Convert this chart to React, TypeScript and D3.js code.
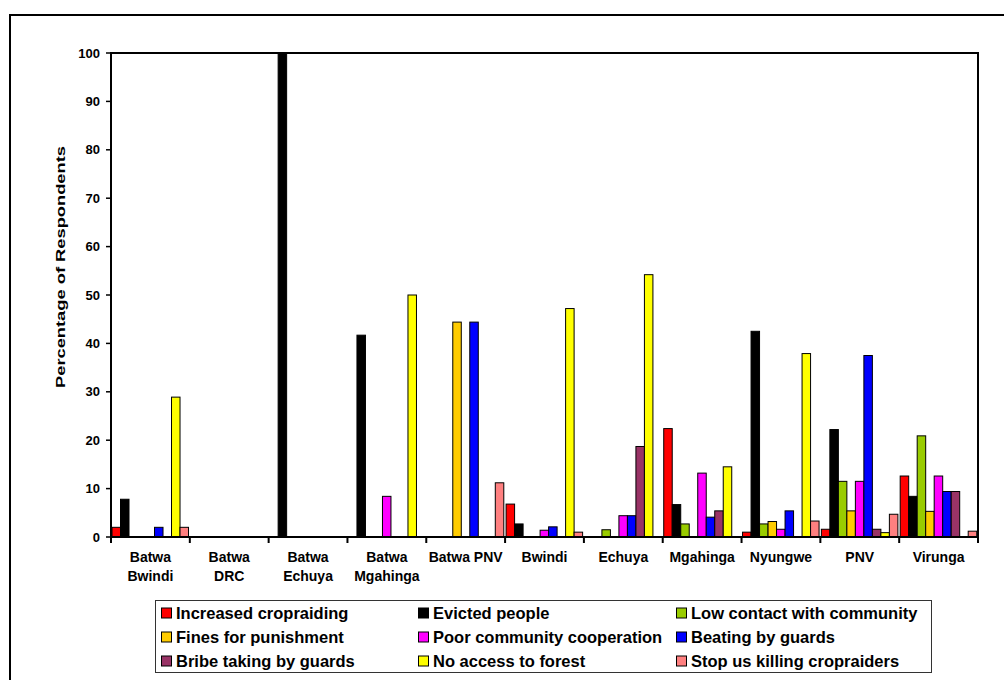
import React from "react";
import * as d3 from "d3";

const categories = [
  "Batwa\nBwindi", "Batwa\nDRC", "Batwa\nEchuya", "Batwa\nMgahinga", "Batwa PNV",
  "Bwindi", "Echuya", "Mgahinga", "Nyungwe", "PNV", "Virunga",
];

const seriesNames = [
  "Increased cropraiding", "Evicted people", "Low contact with community",
  "Fines for punishment", "Poor community cooperation", "Beating by guards",
  "Bribe taking by guards", "No access to forest", "Stop us killing cropraiders",
];

const seriesColors = [
  "#FF0000", "#000000", "#99CC00", "#FFCC00", "#FF00FF", "#0000FF", "#993366", "#FFFF00", "#FF8080",
];

const increasedCropraiding = [2.0, 0, 0, 0, 0, 6.8, 0, 22.4, 1.0, 1.6, 12.6];
const evictedPeople = [7.8, 0, 100, 41.7, 0, 2.7, 0, 6.7, 42.5, 22.2, 8.4];
const lowContact = [0, 0, 0, 0, 0, 0, 1.5, 2.7, 2.7, 11.5, 20.9];
const finesForPunishment = [0, 0, 0, 0, 44.4, 0, 0, 0, 3.2, 5.4, 5.3];
const poorCooperation = [0, 0, 0, 8.4, 0, 1.4, 4.4, 13.2, 1.6, 11.5, 12.6];
const beatingByGuards = [2.0, 0, 0, 0, 44.4, 2.1, 4.4, 4.1, 5.4, 37.5, 9.4];
const bribeTaking = [0, 0, 0, 0, 0, 0, 18.7, 5.4, 0, 1.6, 9.4];
const noAccessToForest = [28.9, 0, 0, 50.0, 0, 47.2, 54.2, 14.5, 37.9, 0.9, 0];
const stopKilling = [2.0, 0, 0, 0, 11.2, 1.0, 0, 0, 3.3, 4.7, 1.2];

const seriesValues = [
  increasedCropraiding, evictedPeople, lowContact, finesForPunishment, poorCooperation,
  beatingByGuards, bribeTaking, noAccessToForest, stopKilling,
];

const yTicks = [0, 10, 20, 30, 40, 50, 60, 70, 80, 90, 100];

const FONT = "'Liberation Sans', Arial, sans-serif";

export default function App() {
  const left = 111, right = 978, top = 53, bottom = 537;
  const x = d3.scaleBand<number>().domain(d3.range(categories.length)).range([left, right]).padding(0);
  const bw = x.bandwidth();
  const xs = d3.scaleBand<number>().domain(d3.range(seriesNames.length)).range([1, bw - 1.3]).padding(0);
  const y = d3.scaleLinear().domain([0, 100]).range([bottom, top]);

  const legendCols = [161, 418, 676];
  const legendRows = [613, 637, 661];

  return (
    <svg width={1004} height={680} style={{ position: "absolute", left: 0, top: 0, background: "#fff" }} fontFamily={FONT}>
      <rect x={0} y={0} width={1004} height={680} fill="#fff" />
      <rect x={10} y={15} width={1010} height={700} fill="none" stroke="#000" strokeWidth={2} />

      {/* bars */}
      {seriesValues.map((vals, si) =>
        vals.map((v, ci) =>
          v > 0 ? (
            <rect
              key={`${si}-${ci}`}
              x={(x(ci) as number) + (xs(si) as number)}
              y={y(v)}
              width={xs.bandwidth()}
              height={bottom - y(v)}
              fill={seriesColors[si]}
              stroke="#000"
              strokeWidth={1}
            />
          ) : null
        )
      )}

      {/* plot frame */}
      <rect x={left} y={top} width={right - left} height={bottom - top} fill="none" stroke="#000" strokeWidth={2} />

      {/* y ticks */}
      {yTicks.map((t) => (
        <g key={t}>
          <line x1={106} x2={left} y1={y(t)} y2={y(t)} stroke="#000" strokeWidth={1.5} />
          <text x={100} y={y(t)} dy="0.35em" textAnchor="end" fontSize={13} fontWeight="bold">
            {t}
          </text>
        </g>
      ))}

      {/* x ticks */}
      {d3.range(categories.length + 1).map((i) => {
        const xx = left + i * bw;
        return <line key={i} x1={xx} x2={xx} y1={bottom} y2={bottom + 6} stroke="#000" strokeWidth={2} />;
      })}

      {/* x labels */}
      {categories.map((c, i) => {
        const cx = (x(i) as number) + bw / 2;
        return (
          <text key={i} x={cx} y={562} textAnchor="middle" fontSize={14} fontWeight="bold">
            {c.split("\n").map((line, li) => (
              <tspan key={li} x={cx} dy={li === 0 ? 0 : 18.5}>
                {line}
              </tspan>
            ))}
          </text>
        );
      })}

      {/* y title */}
      <text
        transform={`translate(65, 267) rotate(-90)`}
        textAnchor="middle"
        fontSize={13}
        fontWeight="bold"
        textLength={242}
        lengthAdjust="spacingAndGlyphs"
      >
        Percentage of Respondents
      </text>

      {/* legend */}
      <rect x={155.5} y={600.5} width={776} height={72} fill="#fff" stroke="#333" strokeWidth={1} />
      {seriesNames.map((name, i) => {
        const col = i % 3;
        const row = Math.floor(i / 3);
        const lx = legendCols[col];
        const ly = legendRows[row];
        return (
          <g key={name}>
            <rect x={lx + 0.5} y={ly - 5} width={10} height={10} fill={seriesColors[i]} stroke="#000" strokeWidth={1} />
            <text x={lx + 15} y={ly} dy="0.36em" fontSize={16.5} fontWeight="bold">
              {name}
            </text>
          </g>
        );
      })}
    </svg>
  );
}
